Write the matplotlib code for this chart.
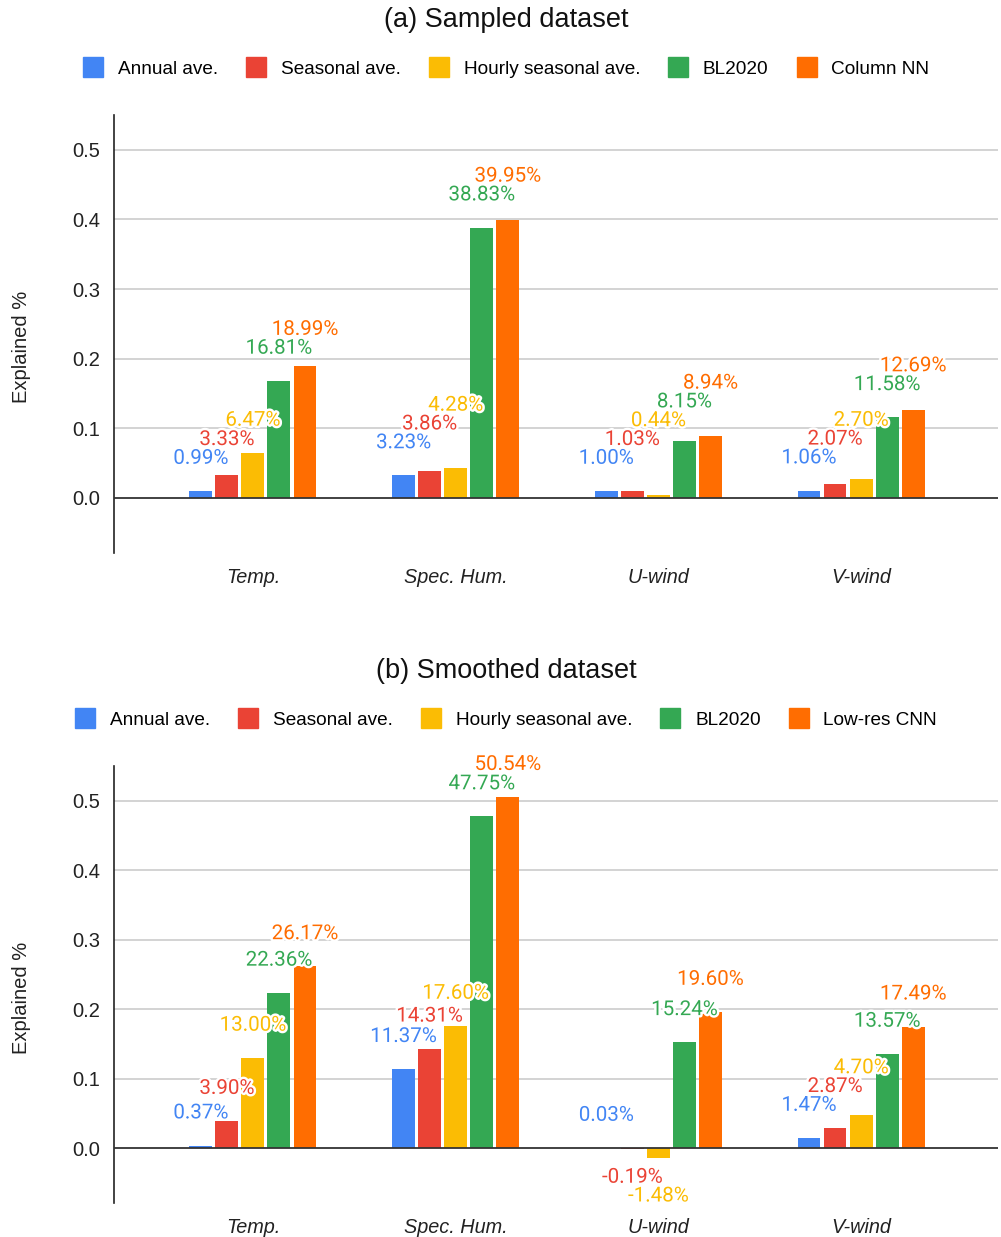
import matplotlib.pyplot as plt
import matplotlib.patheffects as pe
from matplotlib.lines import Line2D
import numpy as np

plt.rcParams['font.family'] = ['Liberation Sans', 'DejaVu Sans']

# Data
categories = ['Temp.', 'Spec. Hum.', 'U-wind', 'V-wind']
series_a = ['Annual ave.', 'Seasonal ave.', 'Hourly seasonal ave.', 'BL2020', 'Column NN']
series_b = ['Annual ave.', 'Seasonal ave.', 'Hourly seasonal ave.', 'BL2020', 'Low-res CNN']

# explained fraction per series, one value per category (Temp, Spec. Hum., U-wind, V-wind)
annual_a = [0.0099, 0.0323, 0.0100, 0.0106]
seasonal_a = [0.0333, 0.0386, 0.0103, 0.0207]
hourly_a = [0.0647, 0.0428, 0.0044, 0.0270]
bl2020_a = [0.1681, 0.3883, 0.0815, 0.1158]
column_nn_a = [0.1899, 0.3995, 0.0894, 0.1269]

annual_b = [0.0037, 0.1137, 0.0003, 0.0147]
seasonal_b = [0.0390, 0.1431, -0.0019, 0.0287]
hourly_b = [0.1300, 0.1760, -0.0148, 0.0470]
bl2020_b = [0.2236, 0.4775, 0.1524, 0.1357]
lowres_cnn_b = [0.2617, 0.5054, 0.1960, 0.1749]

colors = ['#4285F4', '#EA4335', '#FBBC04', '#34A853', '#FF6D01']

fig = plt.figure(figsize=(10.01, 12.37), dpi=100)

label_off = 0.047
label_off_neg = 0.040
label_gap = 0.027


def draw_panel(ax, names, values, title, title_y, legend_y):
    x = np.arange(len(categories))
    step = 0.1285
    width = 0.113
    for i, vals in enumerate(values):
        ax.bar(x + (i - 2) * step, vals, width, color=colors[i], zorder=3)

    # data labels, stacked so they do not overlap
    for j in range(len(categories)):
        prev_pos = -np.inf
        prev_neg = np.inf
        for i, vals in enumerate(values):
            v = vals[j]
            if v >= 0:
                y = max(v + label_off, prev_pos + label_gap)
                prev_pos = y
            else:
                y = min(v - label_off_neg, prev_neg - label_gap)
                prev_neg = y
            ax.text(x[j] + (i - 2) * step, y, f'{v * 100:.2f}%', color=colors[i],
                    ha='center', va='center', fontsize=14.8, zorder=5,
                    family=['Roboto', 'DejaVu Sans'],
                    path_effects=[pe.withStroke(linewidth=3.5, foreground='white')])

    ax.set_xlim(-0.685, 3.675)
    ax.set_ylim(-0.079, 0.55)
    ax.set_yticks([0.0, 0.1, 0.2, 0.3, 0.4, 0.5])
    ax.set_yticklabels([f'{t:.1f}' for t in [0.0, 0.1, 0.2, 0.3, 0.4, 0.5]])
    ax.set_xticks(x)
    ax.set_xticklabels(categories, fontstyle='italic', fontsize=14.3)
    ax.tick_params(axis='both', length=0, colors='#222222')
    ax.tick_params(axis='y', labelsize=14.5, pad=10)
    ax.tick_params(axis='x', pad=11)
    for t in [0.1, 0.2, 0.3, 0.4, 0.5]:
        ax.axhline(t, color='#cccccc', lw=1.2, zorder=1)
    ax.axhline(0, color='#333333', lw=1.3, zorder=4)
    for s in ['top', 'right', 'bottom']:
        ax.spines[s].set_visible(False)
    ax.spines['left'].set_color('#222222')
    ax.spines['left'].set_linewidth(1.2)
    ax.set_ylabel('Explained %', fontsize=14.5, color='#222222')
    ax.yaxis.set_label_coords(-0.094, 0.47)

    fig.text(0.506, title_y, title, ha='center', va='center', fontsize=19.5, color='#111111')
    handles = [Line2D([0], [0], marker='s', linestyle='none', markersize=14.5,
                      markerfacecolor=c, markeredgecolor=c) for c in colors]
    fig.legend(handles, names, loc='center', bbox_to_anchor=(0.506, legend_y), ncol=5,
               frameon=False, fontsize=13.7, handlelength=1.0, handletextpad=0.8,
               columnspacing=1.5)


ax_a = fig.add_axes([0.1139, 0.553, 0.883, 0.354])
draw_panel(ax_a, series_a, [annual_a, seasonal_a, hourly_a, bl2020_a, column_nn_a],
           '(a) Sampled dataset', 0.984, 0.944)

ax_b = fig.add_axes([0.1139, 0.0275, 0.883, 0.3532])
draw_panel(ax_b, series_b, [annual_b, seasonal_b, hourly_b, bl2020_b, lowres_cnn_b],
           '(b) Smoothed dataset', 0.4576, 0.418)

plt.savefig('out.png', dpi=100)
